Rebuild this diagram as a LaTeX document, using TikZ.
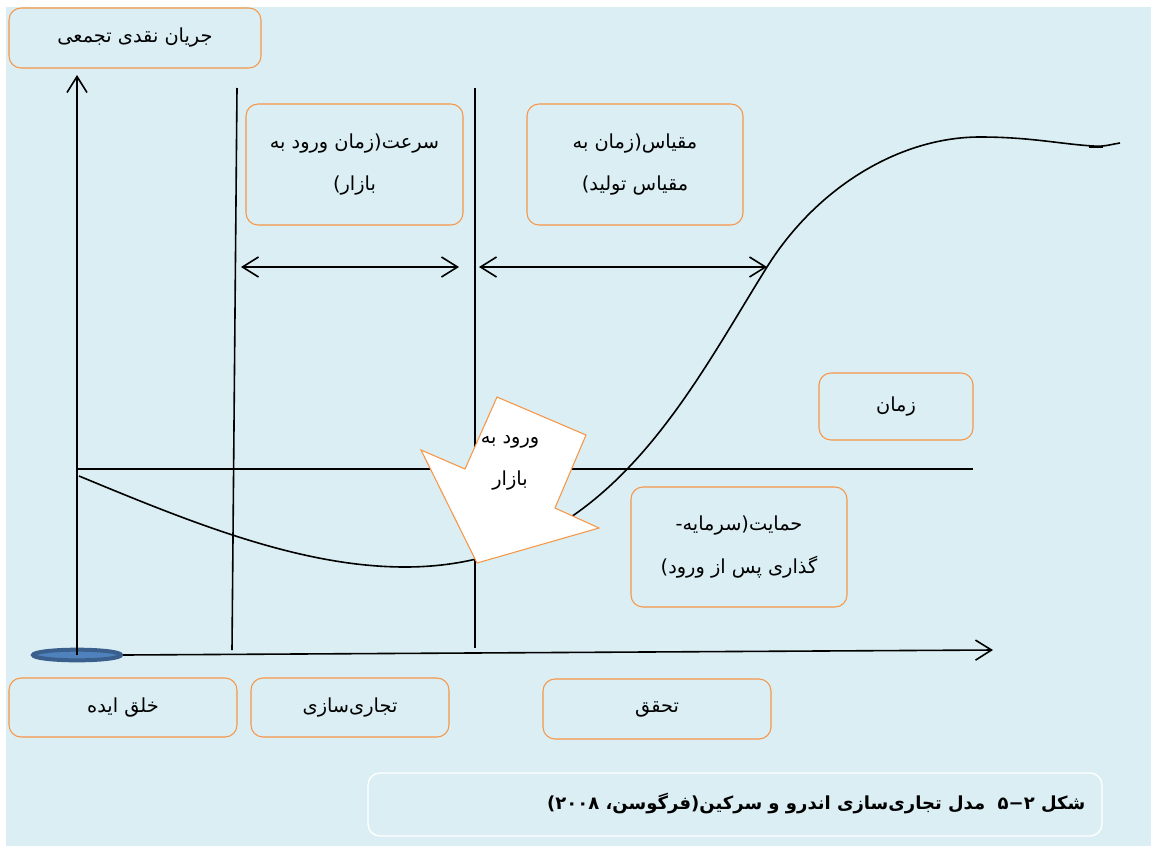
\documentclass[tikz,border=0pt]{standalone}
\usepackage{fontspec}
\usepackage{xcolor}
\usepackage{tikz}
\usetikzlibrary{arrows.meta, shapes.geometric}
\TeXXeTstate=1
\newfontfamily\arabicfont[Script=Arabic]{DejaVu Sans}
\definecolor{bgblue}{HTML}{DAEEF3}
\definecolor{boxorange}{HTML}{F79646}
\definecolor{ideablue}{HTML}{4F81BD}
\definecolor{ideaedge}{HTML}{3A5F8D}
\tikzset{
  labelbox/.style={rectangle, draw=boxorange, rounded corners=9pt, line width=0.8pt, align=center, inner sep=0pt, font=\arabicfont\fontsize{14.5}{32}\selectfont},
  axis/.style={-{Straight Barb[length=12pt, width=15pt]}, line width=1.2pt},
  twoway/.style={{Straight Barb[length=12pt, width=15pt]}-{Straight Barb[length=12pt, width=15pt]}, line width=1.2pt},
  divider/.style={line width=1.2pt},
}

\begin{document}
\begin{tikzpicture}[x=0.75pt, y=-0.75pt]
  \useasboundingbox (0,0) rectangle (1151,846);
  \fill[white] (0,0) rectangle (1151,846);
  \fill[bgblue] (6,7) rectangle (1151,846);

  % Labels
  \node[labelbox, minimum width=189pt, minimum height=45pt] (cash) at (135,38) {\beginR جریان نقدی تجمعی\endR};
  \node[labelbox, minimum width=162.75pt, minimum height=90.75pt] (speed) at (354.5,164.5) {\beginR سرعت(زمان ورود به\endR\\\beginR بازار)\endR};
  \node[labelbox, minimum width=162pt, minimum height=90.75pt] (scale) at (635,164.5) {\beginR مقیاس(زمان به\endR\\\beginR مقیاس تولید)\endR};
  \node[labelbox, minimum width=115.5pt, minimum height=50.25pt] (time) at (896,406.5) {\beginR زمان\endR};
  \node[labelbox, minimum width=162pt, minimum height=90pt] (support) at (739,547) {\beginR حمایت(سرمایه-\endR\\\beginR گذاری پس از ورود)\endR};
  \node[labelbox, minimum width=171pt, minimum height=44.25pt] (idea) at (123,707.5) {\beginR خلق ایده\endR};
  \node[labelbox, minimum width=148.5pt, minimum height=44.25pt] (commerce) at (350,707.5) {\beginR تجاری‌سازی\endR};
  \node[labelbox, minimum width=171pt, minimum height=45pt] (realize) at (657,709) {\beginR تحقق\endR};

  % Axes and phase lines
  \coordinate (ytop) at (77,75);
  \coordinate (xend) at (993,650);
  \coordinate (zleft) at (77,469);
  \coordinate (zright) at (973,469);
  \coordinate (d1top) at (237,88);
  \coordinate (d1bot) at (232,650);
  \coordinate (d2top) at (475,88);
  \coordinate (d2bot) at (475,648);
  \node[ellipse, draw=ideaedge, fill=ideablue, line width=3pt, minimum width=66pt, minimum height=8pt, inner sep=0pt] (origin) at (77,655) {};
  \draw[axis] (origin.center) -- (ytop);
  \draw[axis] (origin.east) -- (xend);
  \draw[divider] (zleft) -- (zright);
  \draw[divider] (d1top) -- (d1bot);
  \draw[divider] (d2top) -- (d2bot);

  % Spans
  \coordinate (s1a) at (241,267);
  \coordinate (s1b) at (459,267);
  \coordinate (s2a) at (479,267);
  \coordinate (s2b) at (767,267);
  \draw[twoway] (s1a) -- (s1b);
  \draw[twoway] (s2a) -- (s2b);

  % Cash flow curve
  \coordinate (cstart) at (79,476);
  \coordinate (cmin) at (405,567);
  \coordinate (cmid) at (767,267);
  \coordinate (ctop) at (980,137);
  \coordinate (cdip) at (1093,146);
  \coordinate (cend) at (1120,143);
  \draw[line width=1.2pt] (cstart) .. controls (190,522) and (300,567) .. (cmin)
    .. controls (605,567) and (687,395) .. (cmid)
    .. controls (817,187) and (900,137) .. (ctop)
    .. controls (1030,137) and (1060,144) .. (cdip)
    .. controls (1105,147) and (1112,144) .. (cend);
  \draw[line width=2.2pt] (1089,147) -- (1103,147);

  % Market entry arrow
  \draw[draw=boxorange, fill=white, line width=0.8pt] (497,397) -- (586,435) -- (555,508) -- (599,528) -- (477,563) -- (421,450) -- (465,469) -- cycle;
  \node[align=center, font=\arabicfont\fontsize{14.5}{32}\selectfont] (entry) at (510,463) {\beginR ورود به\endR\\\beginR بازار\endR};

  % Caption
  \node[rectangle, draw=white, rounded corners=9pt, line width=1pt, minimum width=550.5pt, minimum height=47.25pt] (capbox) at (735,804.5) {};
  \node[anchor=east, font=\arabicfont\bfseries\fontsize{13.5}{16}\selectfont] (caption) at (1090,803) {\beginR شکل ۵−۲~~مدل تجاری‌سازی اندرو و سرکین(فرگوسن، ۲۰۰۸)\endR};
\end{tikzpicture}
\end{document}
